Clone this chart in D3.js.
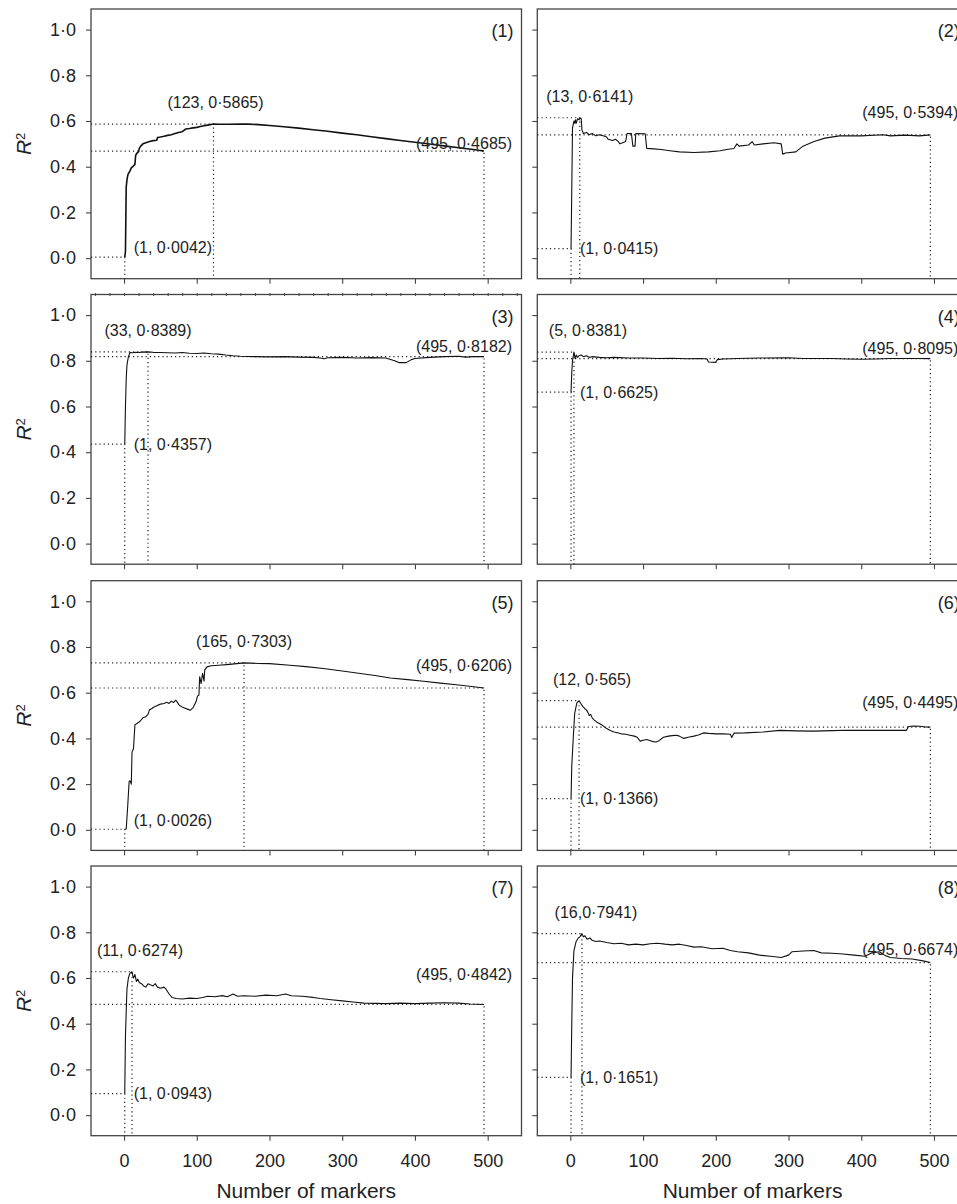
<!DOCTYPE html>
<html>
<head>
<meta charset="utf-8">
<script src="https://cdn.jsdelivr.net/npm/d3@7"></script>
<style>
  body { margin: 0; background: #fff; }
  svg { display: block; font-family: "Liberation Sans", Arial, sans-serif; }
</style>
</head>
<body>
<svg id="chart" width="957" height="1204"></svg>
<script>
// tick values
const xTicks = [0, 100, 200, 300, 400, 500];
const yTicks = [0, 0.2, 0.4, 0.6, 0.8, 1.0];
const panelNames = ['(1)', '(2)', '(3)', '(4)', '(5)', '(6)', '(7)', '(8)'];

// R2 vs number of markers
const series1 = [[1,0.0042],[2,0.03],[3,0.31],[4,0.34],[5,0.36],[6,0.37],[8,0.38],[10,0.395],[12,0.40],[15,0.41],[16,0.45],[18,0.46],[20,0.465],[21,0.48],[23,0.49],[26,0.50],[30,0.505],[35,0.51],[40,0.514],[45,0.516],[46,0.528],[50,0.53],[55,0.533],[60,0.537],[65,0.54],[70,0.545],[75,0.55],[80,0.553],[85,0.565],[90,0.567],[95,0.57],[100,0.572],[105,0.576],[110,0.579],[115,0.582],[123,0.5865],[130,0.586],[145,0.586],[160,0.587],[170,0.5865],[185,0.584],[200,0.58],[220,0.575],[240,0.569],[260,0.562],[280,0.555],[300,0.547],[320,0.54],[340,0.531],[360,0.523],[380,0.515],[400,0.507],[420,0.499],[440,0.491],[460,0.483],[480,0.475],[495,0.4685]];
const series2 = [[1,0.0415],[2,0.30],[3,0.57],[4,0.585],[5,0.60],[6,0.59],[7,0.605],[8,0.59],[9,0.60],[10,0.61],[12,0.605],[13,0.6141],[15,0.61],[16,0.56],[18,0.545],[22,0.55],[26,0.54],[30,0.545],[35,0.535],[40,0.54],[45,0.535],[50,0.53],[52,0.52],[58,0.515],[62,0.52],[66,0.51],[68,0.50],[72,0.505],[76,0.51],[78,0.545],[84,0.545],[86,0.49],[89,0.49],[90,0.545],[103,0.544],[105,0.48],[115,0.478],[125,0.475],[137,0.47],[150,0.465],[170,0.462],[190,0.465],[206,0.47],[215,0.475],[225,0.48],[229,0.50],[232,0.49],[245,0.495],[250,0.51],[253,0.495],[265,0.50],[280,0.505],[290,0.50],[292,0.455],[296,0.46],[310,0.465],[320,0.49],[335,0.51],[350,0.525],[370,0.535],[400,0.535],[430,0.54],[440,0.535],[460,0.538],[480,0.535],[495,0.5394]];
const series3 = [[1,0.4357],[2,0.60],[3,0.72],[4,0.78],[5,0.80],[6,0.817],[8,0.836],[12,0.835],[16,0.837],[20,0.836],[25,0.838],[33,0.8389],[40,0.837],[50,0.836],[60,0.835],[70,0.834],[80,0.836],[90,0.833],[100,0.832],[110,0.834],[120,0.831],[130,0.829],[140,0.825],[150,0.822],[160,0.82],[180,0.818],[200,0.817],[220,0.818],[240,0.816],[260,0.815],[270,0.812],[275,0.809],[280,0.813],[300,0.815],[320,0.812],[340,0.814],[360,0.812],[372,0.80],[378,0.792],[388,0.792],[395,0.805],[400,0.81],[420,0.815],[440,0.818],[460,0.82],[470,0.816],[480,0.818],[495,0.8182]];
const series4 = [[1,0.6625],[2,0.75],[3,0.80],[5,0.8381],[6,0.82],[7,0.81],[8,0.825],[10,0.815],[12,0.822],[15,0.825],[18,0.818],[22,0.822],[26,0.815],[30,0.818],[40,0.815],[50,0.813],[60,0.815],[80,0.812],[100,0.812],[120,0.81],[140,0.811],[160,0.809],[180,0.81],[188,0.808],[190,0.795],[200,0.793],[202,0.805],[210,0.808],[230,0.81],[260,0.812],[300,0.813],[320,0.81],[340,0.81],[360,0.81],[380,0.808],[400,0.807],[420,0.808],[440,0.81],[460,0.81],[480,0.81],[495,0.8095]];
const series5 = [[1,0.0026],[3,0.004],[5,0.10],[7,0.21],[8,0.215],[9,0.21],[10,0.20],[11,0.34],[13,0.355],[15,0.46],[18,0.465],[22,0.475],[26,0.49],[30,0.495],[33,0.505],[35,0.525],[38,0.53],[40,0.535],[45,0.543],[50,0.55],[55,0.553],[59,0.558],[62,0.553],[65,0.563],[68,0.557],[71,0.567],[73,0.56],[76,0.545],[80,0.537],[84,0.532],[88,0.527],[91,0.523],[95,0.535],[99,0.56],[101,0.585],[103,0.59],[104,0.67],[106,0.64],[108,0.685],[110,0.65],[111,0.70],[114,0.713],[120,0.718],[130,0.72],[145,0.724],[165,0.7303],[185,0.728],[200,0.727],[228,0.72],[250,0.714],[274,0.706],[300,0.695],[320,0.686],[345,0.675],[366,0.664],[390,0.657],[412,0.65],[435,0.642],[457,0.635],[475,0.628],[495,0.6206]];
const series6 = [[1,0.1366],[2,0.28],[4,0.40],[6,0.51],[9,0.555],[12,0.565],[14,0.555],[17,0.54],[20,0.53],[22,0.525],[24,0.515],[26,0.50],[28,0.505],[30,0.49],[33,0.48],[36,0.472],[40,0.465],[45,0.455],[50,0.443],[55,0.435],[60,0.428],[65,0.425],[70,0.42],[76,0.418],[82,0.414],[88,0.41],[92,0.405],[96,0.388],[100,0.392],[105,0.395],[110,0.39],[114,0.386],[118,0.384],[122,0.39],[128,0.405],[135,0.41],[140,0.412],[146,0.414],[150,0.41],[156,0.40],[162,0.405],[170,0.41],[176,0.415],[183,0.424],[190,0.422],[201,0.42],[210,0.42],[220,0.418],[222,0.404],[225,0.423],[240,0.424],[265,0.428],[288,0.435],[310,0.433],[334,0.432],[360,0.434],[380,0.436],[403,0.435],[430,0.435],[462,0.435],[465,0.452],[472,0.454],[481,0.453],[488,0.45],[495,0.4495]];
const series7 = [[1,0.0943],[2,0.35],[4,0.55],[6,0.6],[8,0.62],[11,0.6274],[12,0.61],[13,0.60],[15,0.615],[17,0.585],[19,0.595],[21,0.58],[24,0.575],[27,0.565],[30,0.56],[33,0.575],[36,0.57],[40,0.565],[43,0.575],[46,0.56],[50,0.555],[55,0.56],[58,0.55],[62,0.53],[66,0.515],[72,0.51],[80,0.508],[90,0.512],[100,0.51],[108,0.515],[115,0.52],[125,0.518],[135,0.523],[142,0.518],[150,0.53],[156,0.52],[165,0.522],[180,0.52],[195,0.525],[210,0.522],[222,0.53],[230,0.522],[245,0.52],[260,0.515],[270,0.51],[285,0.505],[300,0.50],[315,0.495],[330,0.49],[360,0.488],[380,0.49],[400,0.488],[420,0.49],[440,0.492],[460,0.49],[475,0.486],[495,0.4842]];
const series8 = [[1,0.1651],[2,0.40],[3,0.60],[5,0.72],[8,0.76],[11,0.775],[13,0.78],[16,0.7941],[18,0.78],[20,0.785],[23,0.77],[27,0.775],[30,0.765],[35,0.76],[40,0.762],[50,0.755],[60,0.75],[70,0.752],[80,0.745],[90,0.748],[100,0.745],[110,0.75],[120,0.752],[130,0.748],[140,0.745],[150,0.748],[160,0.742],[170,0.735],[180,0.737],[195,0.728],[210,0.73],[220,0.72],[230,0.715],[245,0.71],[260,0.70],[275,0.695],[290,0.69],[300,0.70],[305,0.715],[320,0.718],[335,0.72],[345,0.71],[360,0.708],[375,0.705],[390,0.70],[405,0.695],[415,0.71],[425,0.715],[432,0.70],[440,0.69],[455,0.685],[470,0.683],[485,0.675],[495,0.6674]];
const allSeries = [series1, series2, series3, series4, series5, series6, series7, series8];

// marked points: first marker, best, all 495
const startPts = [[1,0.0042],[1,0.0415],[1,0.4357],[1,0.6625],[1,0.0026],[1,0.1366],[1,0.0943],[1,0.1651]];
const maxPts = [[123,0.5865],[13,0.6141],[33,0.8389],[5,0.8381],[165,0.7303],[12,0.565],[11,0.6274],[16,0.7941]];
const endPts = [[495,0.4685],[495,0.5394],[495,0.8182],[495,0.8095],[495,0.6206],[495,0.4495],[495,0.4842],[495,0.6674]];
const startLabels = ['(1, 0·0042)', '(1, 0·0415)', '(1, 0·4357)', '(1, 0·6625)', '(1, 0·0026)', '(1, 0·1366)', '(1, 0·0943)', '(1, 0·1651)'];
const maxLabels = ['(123, 0·5865)', '(13, 0·6141)', '(33, 0·8389)', '(5, 0·8381)', '(165, 0·7303)', '(12, 0·565)', '(11, 0·6274)', '(16,0·7941)'];
const endLabels = ['(495, 0·4685)', '(495, 0·5394)', '(495, 0·8182)', '(495, 0·8095)', '(495, 0·6206)', '(495, 0·4495)', '(495, 0·4842)', '(495, 0·6674)'];

// label nudges in px (layout only)
const maxDx = [2, 10, 0, 14, 0, 13, 8, 14];
const startDy = [-10, 0, 0, 0, -9, 0, 0, 0];
const endDy = [-2, -17, -5, -5, -17, -19, -24, -8];

const svg = d3.select('#chart');
const rowTop = [9, 294.5, 580.7, 866];
const colLeft = [91, 537.3];
const w = 430.5, h = 269.7;
const ink = '#222';
const dec = d3.format('.1f');

allSeries.forEach((data, i) => {
  const row = Math.floor(i / 2), col = i % 2;
  const g = svg.append('g').attr('transform', `translate(${colLeft[col]},${rowTop[row]})`);

  const x = d3.scaleLinear().domain([-45.4, 546.5]).range([0, w]);
  const y = d3.scaleLinear().domain([-0.09, 1.09]).range([h, 0]);

  // axes
  const xa = g.append('g')
    .attr('transform', `translate(0,${h})`)
    .call(d3.axisBottom(x).tickValues(xTicks).tickSize(5).tickPadding(14)
      .tickFormat(row === 3 ? d3.format('d') : ''));
  const ya = g.append('g')
    .call(d3.axisLeft(y).tickValues(yTicks).tickSize(5).tickPadding(10)
      .tickFormat(col === 0 ? d => dec(d).replace('.', '·') : ''));
  [xa, ya].forEach(a => {
    a.select('.domain').remove();
    a.selectAll('line').attr('stroke', '#444').attr('stroke-width', 1.1);
    a.selectAll('text').attr('fill', ink).style('font-size', '18px');
  });

  if (i === 2) {
    // small marks along the top edge of panel 3
    g.append('g')
      .call(d3.axisTop(x).tickValues(d3.range(-40, 541, 20)).tickSize(3).tickFormat(''))
      .call(a => a.select('.domain').remove())
      .selectAll('line').attr('stroke', '#444').attr('transform', 'translate(0,1.5)');
  }

  g.append('rect')
    .attr('width', w).attr('height', h)
    .attr('fill', 'none').attr('stroke', '#444').attr('stroke-width', 1.3);

  // dotted guides
  [startPts[i], maxPts[i], endPts[i]].forEach(p => {
    g.append('path')
      .attr('d', `M0,${y(p[1])}H${x(p[0])}V${h}`)
      .attr('fill', 'none').attr('stroke', ink)
      .attr('stroke-width', 1.2).attr('stroke-dasharray', '1.2,3');
  });

  g.append('path')
    .datum(data)
    .attr('d', d3.line().x(d => x(d[0])).y(d => y(d[1])))
    .attr('fill', 'none').attr('stroke', '#111')
    .attr('stroke-width', i === 0 ? 1.6 : 1.1)
    .attr('stroke-linejoin', 'round');

  const lab = g.append('g').attr('fill', ink).style('font-size', '16px');
  lab.append('text')
    .attr('x', x(startPts[i][0]) + 9).attr('y', y(startPts[i][1]) + startDy[i])
    .attr('dy', '0.35em').text(startLabels[i]);
  lab.append('text')
    .attr('x', x(maxPts[i][0]) + maxDx[i]).attr('y', y(maxPts[i][1]) - 16)
    .attr('text-anchor', 'middle').text(maxLabels[i]);
  lab.append('text')
    .attr('x', x(endPts[i][0]) + 28).attr('y', y(endPts[i][1]) + endDy[i])
    .attr('text-anchor', 'end').text(endLabels[i]);

  g.append('text')
    .attr('x', w - 8).attr('y', 28)
    .attr('text-anchor', 'end').attr('fill', ink).style('font-size', '18px')
    .text(panelNames[i]);

  if (col === 0) {
    const t = svg.append('text')
      .attr('transform', `translate(31,${rowTop[row] + h / 2}) rotate(-90)`)
      .attr('text-anchor', 'middle').attr('fill', ink).style('font-size', '21px');
    t.append('tspan').style('font-style', 'italic').text('R');
    t.append('tspan').attr('dy', '-0.5em').style('font-size', '13px').text('2');
  }
  if (row === 3) {
    svg.append('text')
      .attr('x', colLeft[col] + w / 2).attr('y', 1198)
      .attr('text-anchor', 'middle').attr('fill', ink).style('font-size', '21px')
      .text('Number of markers');
  }
});
</script>
</body>
</html>
